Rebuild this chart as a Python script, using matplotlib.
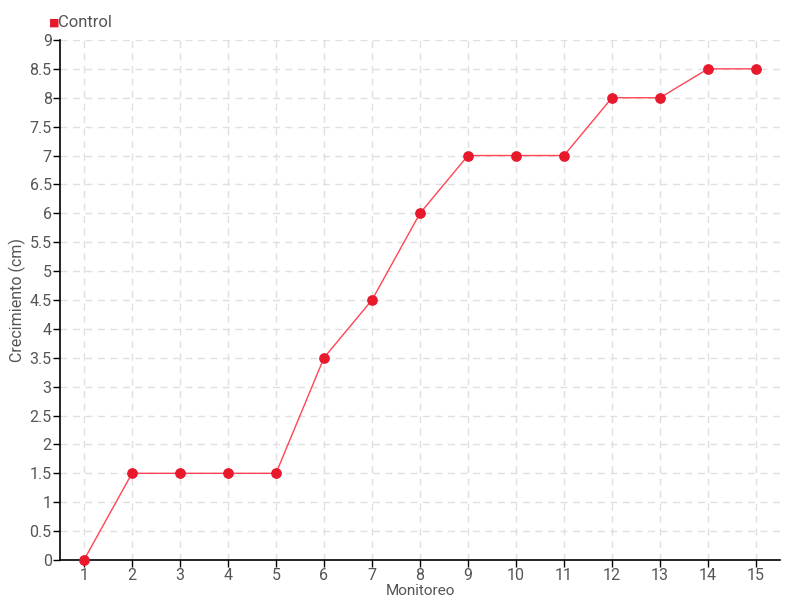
import matplotlib
matplotlib.use("Agg")
import matplotlib.pyplot as plt

monitoreo = list(range(1, 16))
crecimiento = [0, 1.5, 1.5, 1.5, 1.5, 3.5, 4.5, 6, 7, 7, 7, 8, 8, 8.5, 8.5]
yticks = [0, 0.5, 1, 1.5, 2, 2.5, 3, 3.5, 4, 4.5, 5, 5.5, 6, 6.5, 7, 7.5, 8, 8.5, 9]

plt.rcParams['font.family'] = ['Roboto', 'DejaVu Sans']

txt = "#555555"
red = "#e8192c"

fig = plt.figure(figsize=(8, 6), dpi=100)
ax = fig.add_axes([0.075, 0.0667, 0.9, 0.8667])

ax.plot(monitoreo, crecimiento, color="#ff4455", lw=1, zorder=3)
ax.scatter(monitoreo, crecimiento, s=45, color=red, zorder=4, clip_on=False)

ax.set_xlim(0.5, 15.5)
ax.set_ylim(0, 9)
ax.set_xticks(monitoreo)
ax.set_yticks(yticks)
ax.set_yticklabels([f"{v:g}" for v in yticks])
ax.grid(True, color="#e0e0e0", ls=(0, (5, 4)), lw=1)
ax.set_axisbelow(True)

for s in ["top", "right"]:
    ax.spines[s].set_visible(False)
for s in ["left", "bottom"]:
    ax.spines[s].set_color("black")
    ax.spines[s].set_linewidth(1.2)

ax.tick_params(axis="both", colors="black", labelcolor=txt, labelsize=11.5, length=5, width=1, direction="out", pad=1)

ax.set_xlabel("Monitoreo", color=txt, fontsize=11)
ax.xaxis.set_label_coords(0.5, -0.047)
ax.set_ylabel("Crecimiento (cm)", color=txt, fontsize=11.5)
ax.yaxis.set_label_coords(-0.047, 0.5)

fig.text(0.061, 0.963, "■", color=red, fontsize=8, ha="left", va="center", family="DejaVu Sans")
fig.text(0.073, 0.963, "Control", color=txt, fontsize=12, ha="left", va="center")

fig.savefig("out.png", dpi=100)
